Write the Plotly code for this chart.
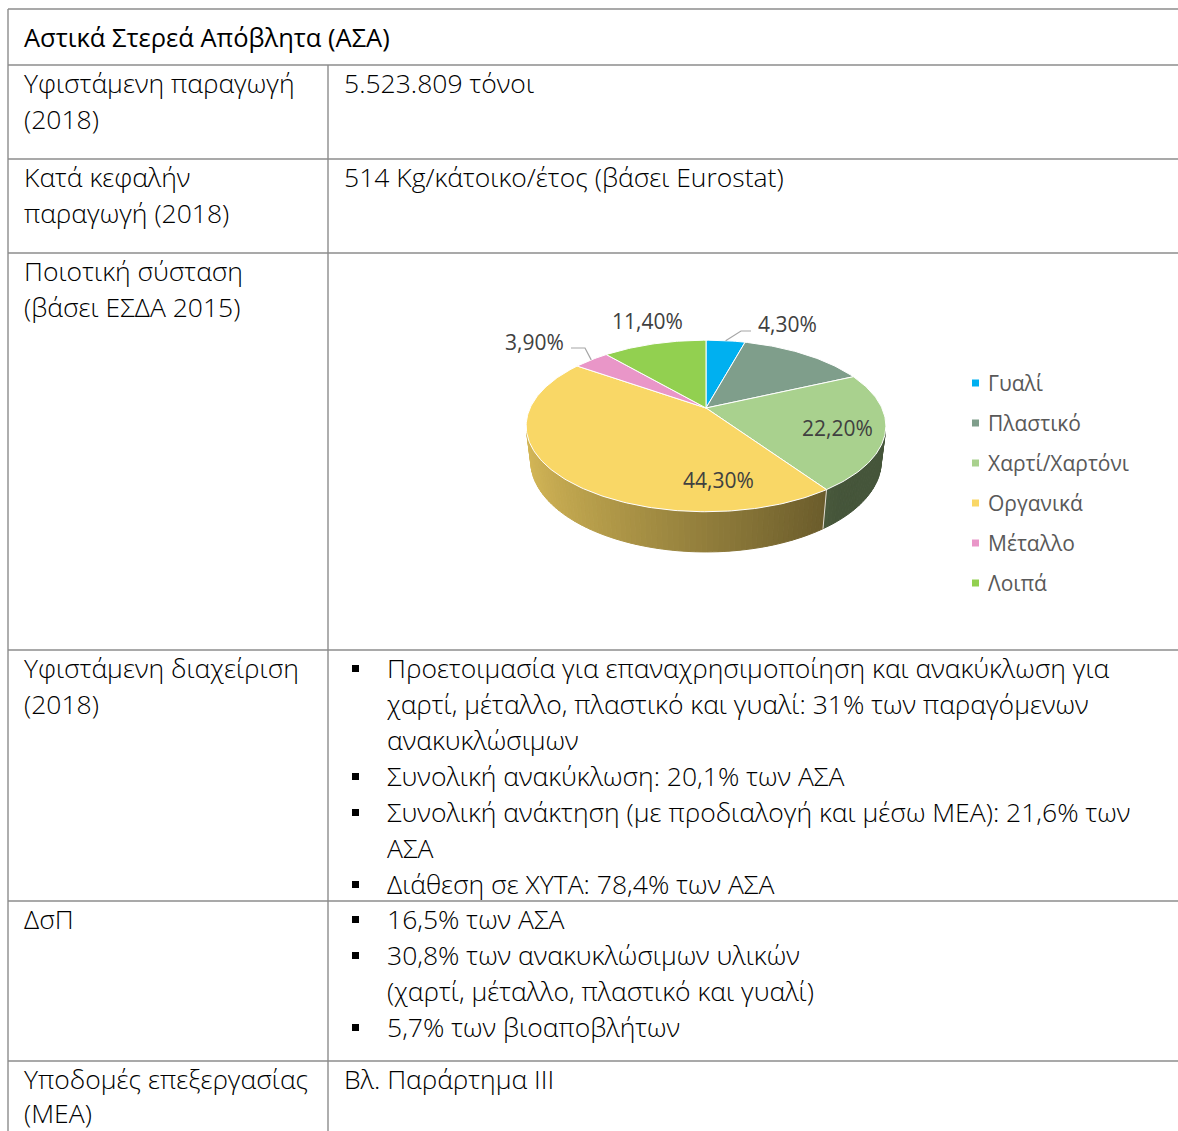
import numpy as np
import plotly.graph_objects as go

W, H = 1178, 1131

# ---------------- data ----------------
categories = ["Γυαλί", "Πλαστικό", "Χαρτί/Χαρτόνι", "Οργανικά", "Μέταλλο", "Λοιπά"]
shares = [4.3, 13.9, 22.2, 44.3, 3.9, 11.4]
show_label = [True, False, True, True, True, True]
slice_colors = ["#00B0F0", "#7F9E8B", "#A9D18E", "#F9D766", "#E996C8", "#92D050"]

header_text = "Αστικά Στερεά Απόβλητα (ΑΣΑ)"
left_cells = [
    ["Υφιστάμενη παραγωγή", "(2018)"],
    ["Κατά κεφαλήν", "παραγωγή (2018)"],
    ["Ποιοτική σύσταση", "(βάσει ΕΣΔΑ 2015)"],
    ["Υφιστάμενη διαχείριση", "(2018)"],
    ["ΔσΠ"],
    ["Υποδομές επεξεργασίας", "(ΜΕΑ)"],
]
# (text, starts a bullet)
right_cells = [
    [("5.523.809 τόνοι", False)],
    [("514 Kg/κάτοικο/έτος (βάσει Eurostat)", False)],
    [],
    [("Προετοιμασία για επαναχρησιμοποίηση και ανακύκλωση για", True),
     ("χαρτί, μέταλλο, πλαστικό και γυαλί: 31% των παραγόμενων", None),
     ("ανακυκλώσιμων", None),
     ("Συνολική ανακύκλωση: 20,1% των ΑΣΑ", True),
     ("Συνολική ανάκτηση (με προδιαλογή και μέσω ΜΕΑ): 21,6% των", True),
     ("ΑΣΑ", None),
     ("Διάθεση σε ΧΥΤΑ: 78,4% των ΑΣΑ", True)],
    [("16,5% των ΑΣΑ", True),
     ("30,8% των ανακυκλώσιμων υλικών", True),
     ("(χαρτί, μέταλλο, πλαστικό και γυαλί)", None),
     ("5,7% των βιοαποβλήτων", True)],
    [("Βλ. Παράρτημα ΙΙΙ", False)],
]

# ---------------- layout geometry ----------------
row_tops = [65, 159, 253, 650, 901, 1061]
table_top = 9
x_left, x_div = 8, 328
line_step = 36
first_offset = 18
FONT = "Open Sans"
TXT = 26.5
grid_col = "#8C8C8C"

fig = go.Figure()
shapes = []
annotations = []

# table grid
for y in [table_top] + row_tops:
    shapes.append(dict(type="line", x0=x_left, x1=W + 5, y0=y, y1=y,
                       line=dict(color=grid_col, width=1.4), layer="below"))
shapes.append(dict(type="line", x0=x_left, x1=x_left, y0=table_top, y1=H + 5,
                   line=dict(color=grid_col, width=1.4), layer="below"))
shapes.append(dict(type="line", x0=x_div, x1=x_div, y0=row_tops[0], y1=H + 5,
                   line=dict(color=grid_col, width=1.4), layer="below"))


def add_text(x, y, txt, size=TXT, color="#000000", weight=300, anchor="left"):
    annotations.append(dict(x=x, y=y, xref="x", yref="y", text=txt, showarrow=False,
                            xanchor=anchor, yanchor="middle",
                            font=dict(family=FONT, size=size, color=color, weight=weight)))


add_text(22, 37, header_text, size=25.5, weight=400)
for top, lines in zip(row_tops, left_cells):
    for k, ln in enumerate(lines):
        y = min(top + first_offset + k * line_step, H - 18)
        add_text(22, y, ln)
for top, lines in zip(row_tops, right_cells):
    for k, (ln, bullet) in enumerate(lines):
        y = top + first_offset + k * line_step
        if bullet is False:
            add_text(342, y, ln)
        else:
            add_text(385, y, ln)
            if bullet:
                shapes.append(dict(type="rect", x0=352, x1=359, y0=y - 3, y1=y + 4,
                                   fillcolor="#000000", line=dict(width=0), layer="above"))

# ---------------- 3D pie (perspective projection of the slices) ----------------
cx, cy0 = 706.0, 408.0
tilt = np.radians(27.8)
s_t, c_t = np.sin(tilt), np.cos(tilt)
Dist, foc, depth = 4.23, 744.0, 0.2276


def proj(X, Y, Z):
    v = Y * s_t + Z * c_t
    w = Y * c_t - Z * s_t
    return cx + foc * X / (Dist + w), cy0 - foc * v / (Dist + w)


def hex2rgb(h):
    h = h.lstrip("#")
    return [int(h[i:i + 2], 16) for i in (0, 2, 4)]


def shade(hexcol, fac):
    r, g, b = hex2rgb(hexcol)
    return "rgb(%d,%d,%d)" % (min(255, r * fac), min(255, g * fac), min(255, b * fac))


vals = np.array(shares, dtype=float)
bounds = np.concatenate([[0], np.cumsum(vals)]) / vals.sum() * 2 * np.pi

# visible side wall: cos(a) < -1/(D cos t)
lim = np.arccos(-1.0 / (Dist * c_t))
vis0, vis1 = lim, 2 * np.pi - lim

for i in range(len(vals)):
    a0, a1 = max(bounds[i], vis0), min(bounds[i + 1], vis1)
    if a1 <= a0:
        continue
    n = max(2, int(np.degrees(a1 - a0) / 1.5) + 1)
    edges = np.linspace(a0, a1, n + 1)
    for j in range(n):
        aa = np.linspace(edges[j], edges[j + 1], 4)
        X, Y = np.sin(aa), np.cos(aa)
        tx, ty = proj(X, Y, 0 * aa)
        bx, by = proj(X, Y, -depth + 0 * aa)
        xs = np.concatenate([tx, bx[::-1], tx[:1]])
        ys = np.concatenate([ty, by[::-1], ty[:1]])
        fac = max(0.41, 0.585 - 0.275 * np.sin((edges[j] + edges[j + 1]) / 2))
        col = shade(slice_colors[i], fac)
        fig.add_trace(go.Scatter(x=xs, y=ys, mode="lines", fill="toself", fillcolor=col,
                                 line=dict(color=col, width=1), hoverinfo="skip",
                                 showlegend=False))

# slice boundaries on the wall
for b in bounds[1:-1]:
    if vis0 < b < vis1:
        bx, by = proj(np.array([np.sin(b)] * 2), np.array([np.cos(b)] * 2),
                      np.array([0, -depth]))
        fig.add_trace(go.Scatter(x=bx, y=by, mode="lines",
                                 line=dict(color="rgba(255,255,255,0.8)", width=1),
                                 hoverinfo="skip", showlegend=False))

# top faces
for i in range(len(vals)):
    aa = np.linspace(bounds[i], bounds[i + 1], max(3, int(np.degrees(bounds[i + 1] - bounds[i])) + 2))
    X, Y = np.sin(aa), np.cos(aa)
    tx, ty = proj(X, Y, 0 * aa)
    xs = np.concatenate([[cx], tx, [cx]])
    ys = np.concatenate([[cy0], ty, [cy0]])
    fig.add_trace(go.Scatter(x=xs, y=ys, mode="lines", fill="toself",
                             fillcolor=slice_colors[i], line=dict(color="white", width=1),
                             name=categories[i], hoverinfo="name", showlegend=False))

# data labels
lab_col = "#404040"
LAB = 21
lab_pos = {0: (756, 324, "left"), 2: (837, 428, "center"), 3: (718, 480, "center"),
           4: (566, 342, "right"), 5: (647, 321, "center")}
for i, (x, y, anc) in lab_pos.items():
    if show_label[i]:
        txt = ("%.2f" % shares[i]).replace(".", ",") + "%"
        add_text(x, y, txt, size=LAB, color=lab_col, weight=400, anchor=anc)

# leader lines (from slice edge at mid-angle)
for i, (ex, ey) in {0: (741, 331), 4: (585, 348)}.items():
    am = (bounds[i] + bounds[i + 1]) / 2
    sx, sy = proj(np.sin(am), np.cos(am), 0.0)
    endx = ex + 10 if i == 0 else ex - 14
    fig.add_trace(go.Scatter(x=[sx, ex, endx], y=[sy, ey, ey], mode="lines",
                             line=dict(color="#A6A6A6", width=1.2), hoverinfo="skip",
                             showlegend=False))

# legend
leg_x, leg_y0, leg_step = 972, 383, 40
for i, name in enumerate(categories):
    y = leg_y0 + i * leg_step
    shapes.append(dict(type="rect", x0=leg_x, x1=leg_x + 7, y0=y - 3.5, y1=y + 3.5,
                       fillcolor=slice_colors[i], line=dict(width=0), layer="above"))
    add_text(leg_x + 14, y, name, size=21, color="#595959", weight=400)

fig.update_layout(
    width=W, height=H, margin=dict(l=0, r=0, t=0, b=0),
    paper_bgcolor="white", plot_bgcolor="white",
    xaxis=dict(range=[0, W], visible=False, fixedrange=True),
    yaxis=dict(range=[H, 0], visible=False, fixedrange=True),
    shapes=shapes, annotations=annotations, showlegend=False,
    font=dict(family=FONT),
)
fig.write_html("out.html", config={"displayModeBar": False},
               post_script="document.body.style.margin='0';"
                           "document.body.style.overflow='hidden';")
